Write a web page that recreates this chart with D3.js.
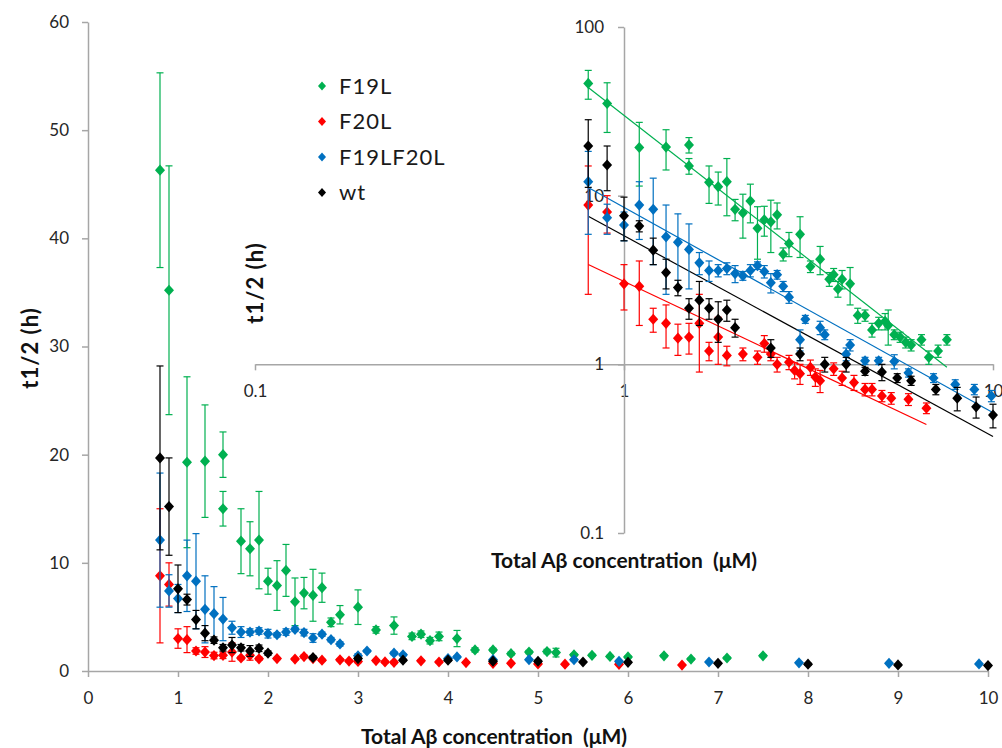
<!DOCTYPE html>
<html>
<head>
<meta charset="utf-8">
<script src="https://cdn.jsdelivr.net/npm/d3@7"></script>
<style>
  body { margin: 0; background: #fff; }
  text { font-family: Lato, "Open Sans", sans-serif; }
</style>
</head>
<body>
<div id="chart"></div>
<script>
// series: total Abeta concentration (uM), t1/2 (h), error
var seriesNames = ["F19L", "F20L", "F19LF20L", "wt"];
var seriesColors = ["#00b050", "#ff0000", "#0070c0", "#000000"];

var f19lX = [0.8, 0.9, 1.1, 1.3, 1.5, 1.5, 1.7, 1.8, 1.9, 2.0, 2.1, 2.2, 2.3, 2.4, 2.5, 2.6, 2.7, 2.8, 3.0, 3.2, 3.4, 3.6, 3.7, 3.8, 3.9, 4.1, 4.3, 4.5, 4.7, 4.9, 5.1, 5.2, 5.4, 5.6, 5.8, 6.0, 6.4, 6.7, 7.1, 7.5];
var f19lY = [46.3, 35.2, 19.3, 19.4, 20.0, 15.0, 12.0, 11.3, 12.1, 8.3, 7.9, 9.3, 6.4, 7.2, 7.0, 7.7, 4.5, 5.2, 5.9, 3.8, 4.2, 3.2, 3.4, 2.8, 3.2, 3.0, 1.95, 1.95, 1.6, 1.75, 1.8, 1.7, 1.5, 1.45, 1.35, 1.3, 1.4, 1.1, 1.2, 1.4];
var f19lErr = [9.0, 11.5, 7.9, 5.2, 2.1, 1.6, 3.0, 2.5, 4.5, 1.2, 2.3, 2.4, 2.2, 1.45, 2.4, 1.35, 0.4, 0.85, 1.6, 0.3, 0.8, 0.3, 0.3, 0.3, 0.4, 0.75, 0.2, 0.15, 0.15, 0.15, 0.2, 0.4, 0.1, 0.1, 0.1, 0.1, 0.1, 0.1, 0.1, 0.1];

var f20lX = [0.8, 0.9, 1.0, 1.1, 1.2, 1.3, 1.4, 1.5, 1.6, 1.7, 1.8, 1.9, 2.1, 2.3, 2.4, 2.5, 2.6, 2.8, 2.9, 3.0, 3.2, 3.3, 3.4, 3.7, 3.9, 4.2, 4.5, 4.7, 5.0, 5.3, 5.9, 6.6];
var f20lY = [8.8, 8.0, 3.0, 2.9, 1.85, 1.75, 1.43, 1.45, 1.75, 1.2, 1.45, 1.13, 1.15, 1.1, 1.33, 1.15, 1.0, 1.03, 0.92, 0.88, 0.96, 0.84, 0.8, 0.94, 0.83, 0.78, 0.71, 0.71, 0.65, 0.63, 0.62, 0.55];
var f20lErr = [6.2, 2.0, 0.9, 1.2, 0.3, 0.5, 0.3, 0.3, 0.85, 0.15, 0.45, 0.15, 0.1, 0.1, 0.15, 0.1, 0.1, 0.1, 0.1, 0.12, 0.1, 0.1, 0.12, 0.08, 0.08, 0.08, 0.06, 0.06, 0.05, 0.05, 0.05, 0.04];

var dblX = [0.8, 0.9, 1.0, 1.1, 1.2, 1.3, 1.4, 1.5, 1.6, 1.7, 1.8, 1.9, 2.0, 2.1, 2.2, 2.3, 2.4, 2.5, 2.6, 2.7, 2.8, 3.0, 3.1, 3.4, 3.5, 4.0, 4.1, 4.5, 4.9, 5.4, 5.9, 6.9, 7.9, 8.9, 9.9];
var dblY = [12.1, 7.4, 6.7, 8.8, 8.3, 5.7, 5.3, 4.8, 4.0, 3.6, 3.6, 3.7, 3.45, 3.35, 3.6, 3.85, 3.55, 3.05, 3.4, 2.9, 2.5, 1.4, 1.85, 1.65, 1.5, 1.15, 1.3, 1.05, 1.05, 1.04, 0.89, 0.83, 0.76, 0.71, 0.65];
var dblErr = [6.2, 1.5, 1.3, 3.3, 4.4, 3.1, 2.5, 2.0, 0.6, 0.5, 0.3, 0.3, 0.4, 0.2, 0.3, 0.2, 0.3, 0.4, 0.2, 0.2, 0.2, 0.2, 0.1, 0.15, 0.1, 0.1, 0.1, 0.05, 0.05, 0.1, 0.05, 0.05, 0.05, 0.05, 0.05];

var wtX = [0.8, 0.9, 1.0, 1.1, 1.2, 1.3, 1.4, 1.5, 1.6, 1.7, 1.8, 1.9, 2.0, 2.5, 3.0, 3.5, 4.0, 4.5, 5.0, 5.5, 6.0, 7.0, 8.0, 9.0, 10.0];
var wtY = [19.7, 15.2, 7.6, 6.6, 4.75, 3.5, 2.85, 2.15, 2.4, 2.15, 1.85, 2.1, 1.65, 1.25, 1.15, 1.0, 1.0, 0.91, 0.9, 0.83, 0.8, 0.71, 0.63, 0.56, 0.5];
var wtErr = [8.5, 4.5, 2.2, 0.5, 0.85, 0.7, 0.3, 0.3, 0.7, 0.3, 0.5, 0.3, 0.2, 0.15, 0.1, 0.1, 0.1, 0.05, 0.1, 0.05, 0.05, 0.05, 0.1, 0.08, 0.08];

// power-law trend lines on the inset: y = a * x^b
var fitA = [29.9, 3.10, 8.53, 5.79];
var fitB = [-1.706, -1.035, -1.217, -1.19];
var fitFrom = [0.8, 0.8, 0.8, 0.8];
var fitTo = [7.5, 6.6, 9.9, 10.0];

var mainXTicks = [0, 1, 2, 3, 4, 5, 6, 7, 8, 9, 10];
var mainYTicks = [0, 10, 20, 30, 40, 50, 60];
var insetXTicks = [0.1, 1, 10];
var insetYTicks = [0.1, 1, 10, 100];

var xs = [f19lX, f20lX, dblX, wtX];
var ys = [f19lY, f20lY, dblY, wtY];
var errs = [f19lErr, f20lErr, dblErr, wtErr];

var series = seriesNames.map(function(name, i) {
    return {
        name: name,
        color: seriesColors[i],
        points: xs[i].map(function(x, j) { return {x: x, y: ys[i][j], e: errs[i][j]}; })
    };
});

var svgWidth = 1002;
var svgHeight = 748;
var axisColor = "#a6a6a6";

var svg = d3.select("#chart")
    .append("svg")
    .attr("width", svgWidth)
    .attr("height", svgHeight);

// scales
var xMain = d3.scaleLinear().domain([0, 10]).range([88, 988]);
var yMain = d3.scaleLinear().domain([0, 60]).range([671, 22]);
var xLog = d3.scaleLog().domain([0.1, 10]).range([255, 993]);
var yLog = d3.scaleLog().domain([0.1, 100]).range([533, 27]);

function styleAxis(g) {
    g.select(".domain").attr("stroke", axisColor).attr("stroke-width", 1.5);
    g.selectAll(".tick line").attr("stroke", axisColor).attr("stroke-width", 1.5);
    g.selectAll(".tick text")
        .attr("fill", "#262626")
        .style("font-family", "Lato, 'Open Sans', sans-serif")
        .style("font-size", "17px");
}

// main axes
svg.append("g")
    .attr("transform", "translate(0,671)")
    .call(d3.axisBottom(xMain).tickValues(mainXTicks).tickSize(6).tickSizeOuter(0).tickPadding(15))
    .call(styleAxis);

svg.append("g")
    .attr("transform", "translate(88,0)")
    .call(d3.axisLeft(yMain).tickValues(mainYTicks).tickSize(6).tickSizeOuter(0).tickPadding(13))
    .call(styleAxis);

// inset axes, crossing at (1, 1)
svg.append("g")
    .attr("transform", "translate(0," + yLog(1) + ")")
    .call(d3.axisBottom(xLog).tickValues(insetXTicks).tickFormat(d3.format("~g")).tickSize(6).tickSizeOuter(0).tickPadding(15))
    .call(styleAxis);

svg.append("g")
    .attr("transform", "translate(" + xLog(1) + ",0)")
    .call(d3.axisLeft(yLog).tickValues(insetYTicks).tickFormat(d3.format("~g")).tickSize(6).tickSizeOuter(0).tickPadding(14))
    .call(styleAxis);

// axis titles
function xTitle(x, y) {
    svg.append("text")
        .attr("x", x).attr("y", y)
        .attr("text-anchor", "middle")
        .style("font-size", "21px").style("font-weight", "bold")
        .style("white-space", "pre")
        .attr("fill", "#111")
        .text("Total Aβ concentration  (μM)");
}
function yTitle(x, y) {
    svg.append("text")
        .attr("transform", "translate(" + x + "," + y + ") rotate(-90)")
        .attr("text-anchor", "middle")
        .style("font-size", "22px").style("font-weight", "bold")
        .attr("letter-spacing", "1px")
        .attr("fill", "#111")
        .text("t1/2 (h)");
}
xTitle(494, 744);
xTitle(624, 568);
yTitle(38, 348);
yTitle(263, 283);

function diamond(r) {
    return "M0," + (-r * 1.12) + "L" + r + ",0L0," + (r * 1.12) + "L" + (-r) + ",0Z";
}

// draws error bars + markers of every series on given scales
function drawSeries(group, xScale, yScale, logY) {
    series.forEach(function(s) {
        var g = group.append("g");
        var bars = g.selectAll("g.err")
            .data(s.points)
            .enter()
            .append("g")
            .attr("class", "err")
            .attr("stroke", s.color)
            .attr("stroke-width", 1.2);

        function lo(d) {
            var v = d.y - d.e;
            if (logY && v <= 0.1) v = 0.1;
            return yScale(v);
        }
        function hi(d) { return yScale(d.y + d.e); }

        bars.append("line")
            .attr("x1", d => xScale(d.x)).attr("x2", d => xScale(d.x))
            .attr("y1", lo).attr("y2", hi);
        bars.append("line")
            .attr("x1", d => xScale(d.x) - 3.5).attr("x2", d => xScale(d.x) + 3.5)
            .attr("y1", hi).attr("y2", hi);
        bars.append("line")
            .attr("x1", d => xScale(d.x) - 3.5).attr("x2", d => xScale(d.x) + 3.5)
            .attr("y1", lo).attr("y2", lo);

        g.selectAll("path.pt")
            .data(s.points)
            .enter()
            .append("path")
            .attr("class", "pt")
            .attr("d", diamond(5))
            .attr("fill", s.color)
            .attr("transform", d => "translate(" + xScale(d.x) + "," + yScale(d.y) + ")");
    });
}

drawSeries(svg.append("g"), xMain, yMain, false);

// trend lines on inset
var fitLine = d3.line().x(d => xLog(d[0])).y(d => yLog(d[1]));
series.forEach(function(s, i) {
    var ends = [fitFrom[i], fitTo[i]].map(function(x) { return [x, fitA[i] * Math.pow(x, fitB[i])]; });
    svg.append("path")
        .attr("d", fitLine(ends))
        .attr("fill", "none")
        .attr("stroke", s.color)
        .attr("stroke-width", 1.2);
});

drawSeries(svg.append("g"), xLog, yLog, true);

// legend
var legend = svg.append("g").attr("transform", "translate(322,86)");
series.forEach(function(s, i) {
    var row = legend.append("g").attr("transform", "translate(0," + (i * 35.5) + ")");
    row.append("path").attr("d", diamond(4)).attr("fill", s.color);
    row.append("text")
        .attr("x", 17).attr("y", 7.5)
        .style("font-size", "22px")
        .attr("letter-spacing", "1px")
        .attr("fill", "#1a1a1a")
        .text(s.name);
});
</script>
</body>
</html>
